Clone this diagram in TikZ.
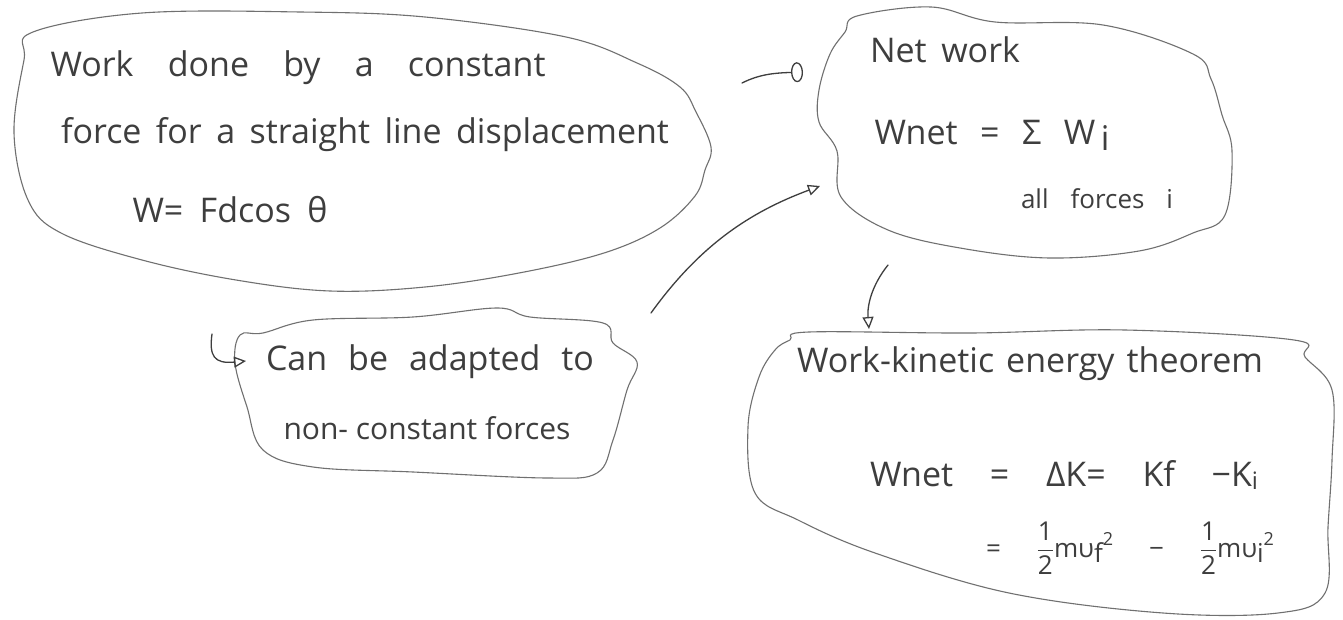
\documentclass[tikz,border=0pt]{standalone}
\usepackage{amsmath}
\usepackage{fontspec}
\setmainfont{Open Sans}
\usetikzlibrary{arrows.meta}
\definecolor{ink}{RGB}{62,62,62}
\definecolor{outline}{RGB}{112,112,112}
\newcommand\myhalf{$\dfrac{\text{1}}{\text{2}}$}
\tikzset{
  blob/.style={draw=outline, line width=1.1pt, line join=round},
  link/.style={draw=ink, line width=1.3pt, line cap=round},
  hand/.style={inner sep=0pt, text=ink, font=\fontsize{34}{40}\selectfont},
  handmid/.style={inner sep=0pt, text=ink, font=\fontsize{30}{36}\selectfont},
  handsmall/.style={inner sep=0pt, text=ink, font=\fontsize{26}{30}\selectfont},
  openhead/.style={-{Triangle[open,length=12pt,width=11pt,line width=1.3pt]}},
  ovalhead/.style={-{Ellipse[open,length=12pt,width=20pt,line width=1.3pt]}}
}
\begin{document}
\begin{tikzpicture}[x=1pt,y=-1pt]
\useasboundingbox (0,0) rectangle (1343,620);
\fill[white] (0,0) rectangle (1343,620);

% blob 1
\draw[blob] plot[smooth cycle, tension=0.6] coordinates {(33,32) (142,13) (300,12) (425,17) (566,37) (637,63) (680,87) (696,112) (711,147) (705,170) (695,196) (660,228) (604,253) (519,273) (425,287) (330,291) (236,280) (142,260) (61,233) (28,200) (14,133) (24,60)};
% blob 2
\draw[blob] plot[smooth cycle, tension=0.6] coordinates {(857,16) (931,7) (995,22) (1103,25) (1193,54) (1211,79) (1222,115) (1232,151) (1225,215) (1193,233) (1139,251) (1049,258) (960,248) (888,230) (841,197) (837,151) (819,122) (819,90) (830,54) (845,32)};
% blob 3
\draw[blob] plot[smooth cycle, tension=0.6] coordinates {(263,333) (313,320) (413,317) (497,308) (530,317) (603,323) (613,343) (637,362) (627,390) (613,440) (597,473) (547,478) (413,472) (313,467) (263,450) (247,407) (235,363) (240,335)};
% blob 4
\draw[blob] plot[smooth cycle, tension=0.6] coordinates {(790,340) (809,332) (971,333) (1125,330) (1294,340) (1305,357) (1332,390) (1332,460) (1328,527) (1325,593) (1278,613) (1163,613) (1009,593) (875,553) (798,520) (755,493) (748,427) (759,377) (775,350)};

% texts
\node[hand] (t1a) at (298,68) {\makebox[495pt][s]{Work done by a constant}};
\node[hand] (t1b) at (365,135) {\makebox[608pt][s]{force for a straight line displacement}};
\node[hand] (t1c) at (230,210) {\makebox[195pt][s]{W= Fdcos θ}};

\node[hand] (t2a) at (945,50) {\makebox[150pt][s]{Net work}};
\node[hand] (t2b) at (992,135) {\makebox[235pt][s]{Wnet = Σ W\,\raisebox{-6pt}{i}}};
\node[handsmall] (t2c) at (1097,199) {\makebox[152pt][s]{all forces i}};

\node[hand] (t3a) at (430,362) {\makebox[328pt][s]{Can be adapted to}};
\node[handmid] (t3b) at (427,428) {non- constant forces};

\node[hand] (t4a) at (1030,364) {\makebox[466pt][s]{Work-kinetic energy theorem}};
\node[hand] (t4b) at (1064,475) {\makebox[388pt][s]{Wnet = ΔK= Kf −K\raisebox{-3pt}{\fontsize{24}{28}\selectfont i}}};
\node[handsmall] (t4c) at (1130,548) {\makebox[288pt][s]{= \myhalf mυ\raisebox{-5pt}{f}\raisebox{12pt}{\fontsize{18}{20}\selectfont 2} − \myhalf mυ\raisebox{-5pt}{i}\raisebox{12pt}{\fontsize{18}{20}\selectfont 2}}};

% connectors
\coordinate (s1) at (742,83);
\coordinate (e1) at (803,72);
\draw[link, ovalhead] (s1) .. controls (760,74) and (775,73) .. (e1);

\coordinate (s2) at (651,313);
\coordinate (e2) at (820,186);
\draw[link, openhead] (s2) .. controls (700,245) and (750,212) .. (e2);

\coordinate (s3) at (212,334);
\coordinate (e3) at (246,361);
\draw[link, openhead] (s3) .. controls (209,356) and (214,364) .. (e3);

\coordinate (s4) at (888,265);
\coordinate (e4) at (869,329);
\draw[link, openhead] (s4) .. controls (872,285) and (867,305) .. (e4);
\end{tikzpicture}
\end{document}
